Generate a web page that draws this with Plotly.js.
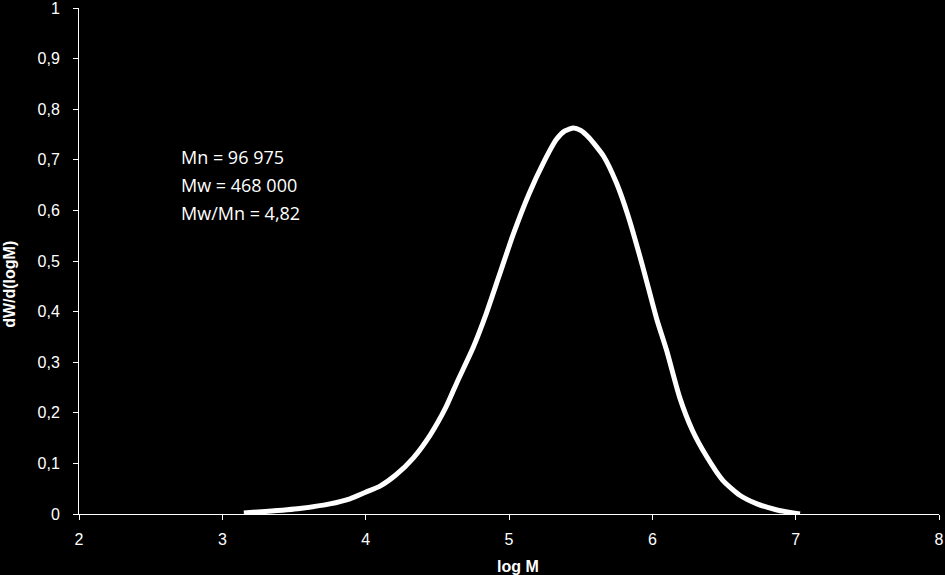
<!DOCTYPE html>
<html>
<head>
<meta charset="utf-8">
<script src="https://cdn.plot.ly/plotly-3.0.1.min.js"></script>
<style>html,body{margin:0;padding:0;background:#000;}#chart{width:945px;height:575px;}</style>
</head>
<body>
<div id="chart"></div>
<script>
// log M values
var logM = [3.15, 3.30, 3.54, 3.75, 3.89, 4.00, 4.10, 4.21, 4.33, 4.45, 4.56, 4.64, 4.75, 4.84, 4.93, 5.03, 5.14, 5.24, 5.33, 5.39, 5.45, 5.50, 5.56, 5.66, 5.75, 5.83, 5.93, 6.03, 6.10, 6.19, 6.28, 6.38, 6.49, 6.61, 6.73, 6.87, 7.03];
// dW/d(logM) values
var dW = [0.002, 0.005, 0.011, 0.020, 0.030, 0.043, 0.055, 0.077, 0.110, 0.156, 0.211, 0.262, 0.329, 0.395, 0.470, 0.553, 0.633, 0.694, 0.740, 0.757, 0.763, 0.758, 0.743, 0.707, 0.654, 0.590, 0.492, 0.386, 0.323, 0.231, 0.165, 0.113, 0.067, 0.037, 0.020, 0.008, 0.000];
// axis ticks
var xTicks = [2, 3, 4, 5, 6, 7, 8];
var yTicks = [0, 0.1, 0.2, 0.3, 0.4, 0.5, 0.6, 0.7, 0.8, 0.9, 1];
var yTickText = ["0", "0,1", "0,2", "0,3", "0,4", "0,5", "0,6", "0,7", "0,8", "0,9", "1"];
// texts
var xTitle = "log M";
var yTitle = "dW/d(logM)";
var infoLines = ["Mn = 96 975", "Mw = 468 000", "Mw/Mn = 4,82"];
var infoY = [0.705, 0.650, 0.595];

var trace = {
  x: logM, y: dW, type: 'scatter', mode: 'lines',
  line: {color: '#ffffff', width: 5, shape: 'spline', smoothing: 0.6},
  hoverinfo: 'skip', showlegend: false
};

var fam = '"Liberation Sans", Arial, sans-serif';
var titleFont = {family: fam, size: 16, color: '#ffffff'};

var annotations = infoLines.map(function(t, i) {
  return {text: t, x: 2.70, y: infoY[i], xref: 'x', yref: 'y', xanchor: 'left', yanchor: 'middle',
          showarrow: false, font: {family: '"Open Sans", Lato, sans-serif', size: 18, color: '#ffffff'}};
});
annotations.push({text: '<b>' + xTitle + '</b>', xref: 'paper', yref: 'paper', x: 0.5105, y: -0.1047,
  xanchor: 'center', yanchor: 'middle', showarrow: false, font: titleFont});
annotations.push({text: '<b>' + yTitle + '</b>', xref: 'paper', yref: 'paper', x: -0.0802, y: 0.453,
  xanchor: 'center', yanchor: 'middle', textangle: -90, showarrow: false, font: titleFont});

var axisFont = {family: fam, size: 16, color: '#ffffff'};
var layout = {
  width: 945, height: 575,
  paper_bgcolor: '#000000', plot_bgcolor: '#000000',
  margin: {l: 79, r: 6, t: 8, b: 61},
  separators: ', ',
  showlegend: false,
  xaxis: {
    range: [2, 8], tickmode: 'array', tickvals: xTicks, showgrid: false, zeroline: false,
    showline: true, linecolor: '#ffffff', linewidth: 1,
    ticks: 'outside', ticklen: 5, tickcolor: '#ffffff', tickwidth: 1,
    tickfont: axisFont, ticklabelstandoff: 6, ticklabeloverflow: 'allow'
  },
  yaxis: {
    range: [0, 1], tickmode: 'array', tickvals: yTicks, ticktext: yTickText, showgrid: false, zeroline: false,
    showline: true, linecolor: '#ffffff', linewidth: 1,
    ticks: 'outside', ticklen: 5, tickcolor: '#ffffff', tickwidth: 1,
    tickfont: axisFont, ticklabelstandoff: 10, ticklabeloverflow: 'allow'
  },
  annotations: annotations
};

Plotly.newPlot('chart', [trace], layout, {displayModeBar: false, staticPlot: true});
</script>
</body>
</html>
